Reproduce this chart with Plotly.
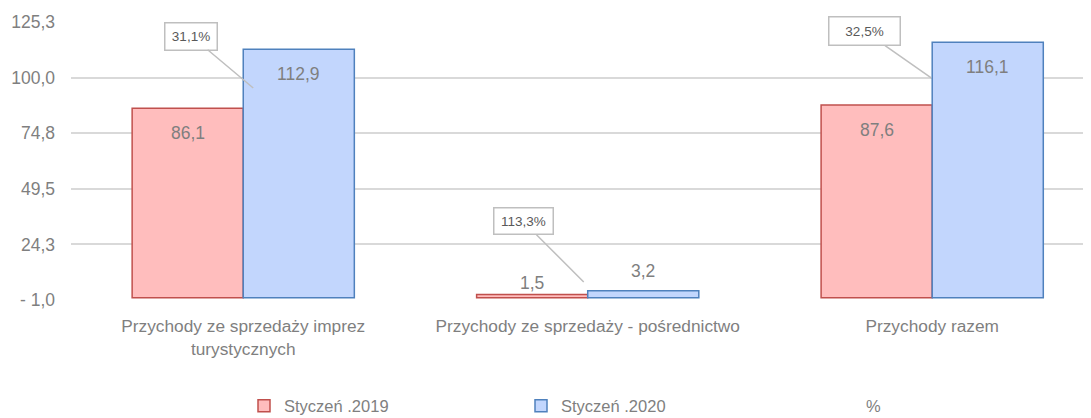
import plotly.graph_objects as go

categories = ["Przychody ze sprzedaży imprez<br>turystycznych",
              "Przychody ze sprzedaży - pośrednictwo",
              "Przychody razem"]
series_names = ["Styczeń .2019", "Styczeń .2020", "%"]
values_2019 = [86.1, 1.5, 87.6]
values_2020 = [112.9, 3.2, 116.1]
pct_change = [31.1, 113.3, 32.5]
y_tickvals = [-1.0, 24.26, 49.52, 74.78, 100.04, 125.3]
y_ticktext = ["- 1,0", "24,3", "49,5", "74,8", "100,0", "125,3"]

FONT = "Liberation Sans, Arial, sans-serif"
GRAY = "#7f7f7f"
PAGE_OFF = 8                      # default body margin of the html page
W, H = 1091 - PAGE_OFF, 418 - PAGE_OFF
PLOT_L, PLOT_T, PLOT_B = 71, 22, 300   # plot area in page pixels
ML, MT, MB = PLOT_L - PAGE_OFF, PLOT_T - PAGE_OFF, H - (PLOT_B - PAGE_OFF)
BARGAP = 0.355

x_idx = list(range(len(categories)))

fig = go.Figure()
fig.add_trace(go.Bar(
    x=x_idx, y=values_2019, name=series_names[0],
    marker=dict(color="#ffbdbd", line=dict(color="#c0504d", width=1.5)),
    legend="legend", hoverinfo="skip"))
fig.add_trace(go.Bar(
    x=x_idx, y=values_2020, name=series_names[1],
    marker=dict(color="#c2d6fd", line=dict(color="#4f81bd", width=1.5)),
    legend="legend2", hoverinfo="skip"))
fig.add_trace(go.Scatter(
    x=x_idx, y=pct_change, name=series_names[2], mode="markers",
    marker=dict(color="rgba(0,0,0,0)", size=1), yaxis="y2",
    legend="legend3", hoverinfo="skip"))

annotations = []
off = (1 - BARGAP) / 4
for i in x_idx:
    for vals, sgn in ((values_2019, -1), (values_2020, 1)):
        v = vals[i]
        inside = v > 20
        annotations.append(dict(
            x=i + sgn * off, y=v, xref="x", yref="y",
            text=f"{v:.1f}".replace(".", ","), showarrow=False,
            yshift=-25 if inside else 12 + (8 if sgn > 0 else 0),
            font=dict(family=FONT, size=17.5, color=GRAY)))

# callouts for % series: (pointer y in data units, tip xshift, ax, ay, box w, box h)
callout_layout = [(95.3, 10, -62, -52, 45, 20),
                  (7.2, -4, -60.5, -60.5, 52, 19),
                  (99.9, -1, -66.5, -46.5, 64, 21)]
for i, (py, xs, ax, ay, bw, bh) in zip(x_idx, callout_layout):
    annotations.append(dict(
        x=i, y=py, xref="x", yref="y", xshift=xs,
        text=f"{pct_change[i]:.1f}%".replace(".", ","),
        showarrow=True, arrowhead=0, arrowwidth=1.5, arrowcolor="#bfbfbf",
        ax=ax, ay=ay, bgcolor="white", bordercolor="#bfbfbf", borderwidth=1.5,
        borderpad=3, width=bw, height=bh,
        font=dict(family=FONT, size=13.5, color="#595959")))

def paper_x(px):
    return (px - PLOT_L) / (W - ML)

def paper_y(py):
    return (PLOT_B - py) / (PLOT_B - PLOT_T)

leg_common = dict(orientation="h", yanchor="middle", y=paper_y(406), xanchor="left",
                  font=dict(family=FONT, size=16.5, color=GRAY), bgcolor="rgba(0,0,0,0)",
                  borderwidth=0, itemwidth=30)

fig.update_layout(
    width=W, height=H,
    margin=dict(l=ML, r=0, t=MT, b=MB, autoexpand=False),
    paper_bgcolor="white", plot_bgcolor="white",
    separators=", ",
    barmode="group", bargap=BARGAP, bargroupgap=0,
    font=dict(family=FONT, size=17, color=GRAY),
    xaxis=dict(tickmode="array", tickvals=x_idx, ticktext=categories,
               range=[-0.5, 2.461], showgrid=False, showline=False, ticks="",
               ticklabelstandoff=14, automargin=False,
               tickfont=dict(family=FONT, size=17.3, color=GRAY)),
    yaxis=dict(range=[-1.0, 125.3], tickmode="array", tickvals=y_tickvals,
               ticktext=y_ticktext, showgrid=True, gridcolor="#d9d9d9", gridwidth=1.5,
               zeroline=False, showline=False, ticks="", ticklabelstandoff=15,
               automargin=False,
               tickfont=dict(family=FONT, size=17.5, color=GRAY)),
    yaxis2=dict(overlaying="y", side="right", visible=False, range=[0, 150]),
    showlegend=True,
    legend=dict(leg_common, x=paper_x(244)),
    legend2=dict(leg_common, x=paper_x(521)),
    legend3=dict(leg_common, x=paper_x(826)),
    annotations=annotations,
)

fig.write_html("out.html")
